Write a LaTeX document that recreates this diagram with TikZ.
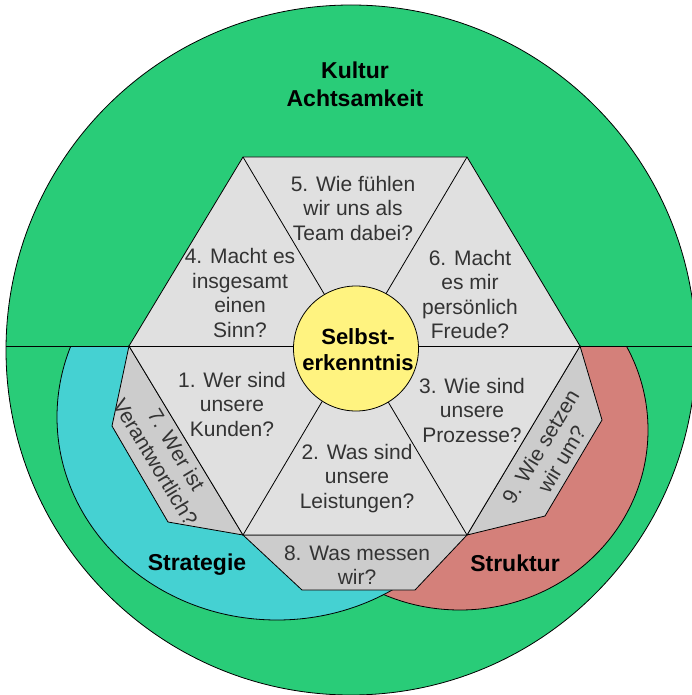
\documentclass[tikz,border=0pt]{standalone}
\usepackage{fontspec}
\setmainfont{Liberation Sans}
\usepackage{tikz,xcolor}
\usetikzlibrary{positioning, shapes.geometric}

\definecolor{kulturgruen}{RGB}{41,204,120}
\definecolor{strategieblau}{RGB}{69,209,210}
\definecolor{strukturrot}{RGB}{212,128,122}
\definecolor{kerngelb}{RGB}{255,243,128}
\definecolor{feldgrau}{RGB}{224,224,224}
\definecolor{randgrau}{RGB}{204,204,204}
\definecolor{textgrau}{RGB}{51,51,51}

\begin{document}
\begin{tikzpicture}[x=1pt, y=-1pt, line width=0.8pt,
        frage/.style={align=center, text=textgrau, inner sep=0pt,
            font=\fontsize{21}{24.5}\selectfont},
        titel/.style={align=center, inner sep=0pt,
            font=\bfseries\fontsize{23}{28}\selectfont}]
    \useasboundingbox (0,0) rectangle (692,695);

    % Kultur
    \draw[fill=kulturgruen] (351,350) circle[radius=345pt];
    % Strategie und Struktur
    \begin{scope}
        \clip (0,347) rectangle (692,695);
        \draw[fill=strukturrot] (460,430) ellipse[x radius=188pt, y radius=180pt];
        \draw[fill=strategieblau] (277,417) ellipse[x radius=220pt, y radius=203pt];
    \end{scope}
    \draw (6,346.5) -- (696,346.5);

    % Sechseck
    \coordinate (L)  at (129,346);
    \coordinate (OL) at (243,157);
    \coordinate (OR) at (467,157);
    \coordinate (R)  at (580,346);
    \coordinate (UR) at (467,535);
    \coordinate (UL) at (243,535);

    \draw[fill=randgrau] (L) -- (112,426) -- (168,522) -- (UL) -- cycle;
    \draw[fill=randgrau] (UL) -- (302,590) -- (415,590) -- (UR) -- cycle;
    \draw[fill=randgrau] (R) -- (602,420) -- (545,516) -- (UR) -- cycle;

    \draw[fill=feldgrau] (L) -- (OL) -- (OR) -- (R) -- (UR) -- (UL) -- cycle;
    \foreach \von/\bis in {L/R, OL/UR, OR/UL}
        \draw (\von) -- (\bis);

    \node[circle, draw, fill=kerngelb, minimum size=125pt, inner sep=0pt] (kern) at (356,348.5) {};
    \node[titel, font=\bfseries\fontsize{22}{26}\selectfont] (selbst) at (358,350) {Selbst-\\erkenntnis};

    % Fragen
    \node[frage] (f1) at (232,404)   {1. Wer sind\\unsere\\Kunden?};
    \node[frage] (f2) at (357,478.5) {2. Was sind\\unsere\\Leistungen?};
    \node[frage] (f3) at (472,410)   {3. Wie sind\\unsere\\Prozesse?};
    \node[frage] (f4) at (240,293)   {4. Macht es\\insgesamt\\einen\\Sinn?};
    \node[frage] (f5) at (353,208)   {5. Wie fühlen\\wir uns als\\Team dabei?};
    \node[frage] (f6) at (470,294.5) {6. Macht\\es mir\\persönlich\\Freude?};
    \node[frage, rotate=-59] (f7) at (166,456) {7. Wer ist\\Verantwortlich?};
    \node[frage] (f8) at (357,565)   {8. Was messen\\wir?};
    \node[frage, rotate=59]  (f9) at (551,453) {9. Wie setzen\\wir um?};

    % Bereiche
    \node[titel] (kultur)    at (355,84)  {Kultur\\Achtsamkeit};
    \node[titel] (strategie) at (197,565) {Strategie};
    \node[titel] (struktur)  at (515,563) {Struktur};
\end{tikzpicture}
\end{document}
